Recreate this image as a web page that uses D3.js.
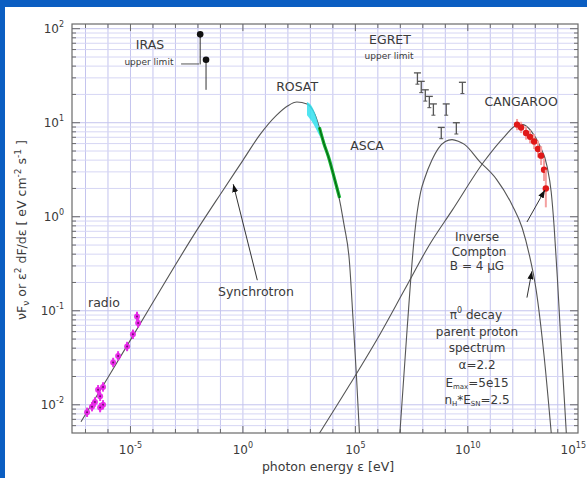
<!DOCTYPE html>
<html><head><meta charset="utf-8">
<script src="https://cdn.jsdelivr.net/npm/d3@7"></script>
<style>
html,body{margin:0;padding:0;background:#0b5ec2;}
svg{display:block;}
text{font-family:"DejaVu Sans",sans-serif;fill:#3a3a3a;}
</style></head><body>
<svg id="c" width="587" height="478"></svg>
<script>
// ---------- DATA (log10 of photon energy [eV] and of nuFnu [eV cm^-2 s^-1]) ----------
const synchLogE = [-7.2,-6.0,-4.25,-2.04,-1.0,0.0,0.75,1.5,2.0,2.4,2.85,3.2,3.5,3.85,4.2,4.5,4.73,4.9,5.05,5.18];
const synchLogF = [-2.18,-1.71,-1.01,-0.14,0.24,0.6,0.87,1.08,1.18,1.22,1.2,1.09,0.87,0.6,0.29,-0.09,-0.46,-1.1,-1.7,-2.3];

const icLogE = [3.41,4.74,6.07,7.18,8.29,9.31,10.73,11.62,12.15,12.46,12.82,13.17,13.53,13.71,13.84,13.98,14.11,14.24,14.38];
const icLogF = [-2.3,-1.79,-1.26,-0.78,-0.3,0.07,0.59,0.85,0.97,0.98,0.91,0.77,0.53,0.26,-0.11,-0.64,-1.2,-1.73,-2.3];

const pionLogE = [6.98,7.3,7.61,7.75,7.9,8.1,8.4,8.7,9.0,9.3,9.6,9.85,10.52,11.27,11.98,12.42,12.73,13.04,13.4,13.71];
const pionLogF = [-2.3,-1.2,-0.245,0.05,0.26,0.42,0.6,0.73,0.8,0.82,0.8,0.77,0.59,0.40,0.12,-0.12,-0.40,-0.78,-1.5,-2.3];

const radioLogE = [-6.93,-6.71,-6.58,-6.35,-6.22,-6.44,-6.22,-6.35,-5.77,-5.55,-5.15,-4.89,-4.66,-4.71];
const radioLogF = [-2.08,-2.02,-1.97,-1.91,-2.00,-1.84,-1.81,-2.03,-1.55,-1.48,-1.38,-1.25,-1.13,-1.06];
const radioErr  = [0.05,0.05,0.05,0.05,0.05,0.05,0.05,0.05,0.05,0.05,0.05,0.05,0.05,0.05];

const rosatLogE = [2.85,3.1,3.3,3.45];
const rosatLogFHi = [1.22,1.16,1.03,0.88];
const rosatLogFLo = [1.08,1.0,0.91,0.84];

const ascaLogE = [3.4,3.6,3.8,4.0,4.2,4.3];
const ascaLogF = [0.95,0.78,0.64,0.47,0.29,0.2];

const egretLogE = [7.76,7.93,8.11,8.29,8.47,9.04,9.76,9.49,8.82];
const egretLogF = [1.53,1.44,1.35,1.28,1.20,1.20,1.43,1.00,0.95];

const cangLogE = [12.19,12.37,12.59,12.77,12.95,13.12,13.26,13.39,13.47];
const cangLogF = [0.98,0.95,0.89,0.85,0.80,0.72,0.65,0.50,0.30];
const cangErr  = [0.06,0.06,0.07,0.07,0.08,0.09,0.10,0.12,0.20];

const irasLogE = [-1.90,-1.64];
const irasLogF = [1.94,1.67];

const xTickExps = [-5,0,5,10,15];
const yTickExps = [-2,-1,0,1,2];

// ---------- SETUP ----------
const P = v => Math.pow(10, v);
const svg = d3.select('#c');
svg.append('rect').attr('width',587).attr('height',478).attr('fill','#0b5ec2');
svg.append('rect').attr('x',5).attr('y',7).attr('width',582).attr('height',471).attr('fill','#ffffff');

const x = d3.scaleLog().domain([P(-7.6), P(14.9)]).range([72, 578]);
const y = d3.scaleLog().domain([P(-2.3), P(2.05)]).range([433, 24]);
const X = le => x(P(le)), Y = lf => y(P(lf));
const [x0,x1] = x.range(), [y0,y1] = y.range();

svg.append('clipPath').attr('id','clip').append('rect')
  .attr('x',x0).attr('y',y1).attr('width',x1-x0).attr('height',y0-y1);

// grid
const g = svg.append('g');
for (let e = -7; e <= 14; e++) {
  g.append('line').attr('x1',x(P(e))).attr('x2',x(P(e))).attr('y1',y1).attr('y2',y0)
    .attr('stroke','#c4c4ee').attr('stroke-width',1);
}
const yMinor = [];
for (let d = -3; d <= 2; d++) for (let m = 1; m <= 9; m++) {
  const v = m * P(d);
  if (v >= y.domain()[0] && v <= y.domain()[1]) yMinor.push({v, major: m === 1});
}
yMinor.forEach(t => {
  g.append('line').attr('x1',x0).attr('x2',x1).attr('y1',y(t.v)).attr('y2',y(t.v))
    .attr('stroke', t.major ? '#c4c4ee' : '#d6d6f4').attr('stroke-width',1);
});

// frame + ticks
const axisCol = '#6a6a6a';
yMinor.forEach(t => {
  const L = t.major ? 8 : 4;
  g.append('line').attr('x1',x0).attr('x2',x0+L).attr('y1',y(t.v)).attr('y2',y(t.v)).attr('stroke',axisCol);
  g.append('line').attr('x1',x1).attr('x2',x1-L).attr('y1',y(t.v)).attr('y2',y(t.v)).attr('stroke',axisCol);
});
for (let e = -7; e <= 14; e++) {
  const L = (e % 5 === 0) ? 7 : 4;
  g.append('line').attr('x1',x(P(e))).attr('x2',x(P(e))).attr('y1',y0).attr('y2',y0-L).attr('stroke',axisCol);
  g.append('line').attr('x1',x(P(e))).attr('x2',x(P(e))).attr('y1',y1).attr('y2',y1+L).attr('stroke',axisCol);
}
svg.append('rect').attr('x',x0).attr('y',y1).attr('width',x1-x0).attr('height',y0-y1)
  .attr('fill','none').attr('stroke',axisCol).attr('stroke-width',1.2);

// tick labels
xTickExps.forEach(e => {
  const last = e === xTickExps[xTickExps.length-1];
  const t = svg.append('text').attr('x', last ? 586 : x(P(e))).attr('y', 454)
    .attr('text-anchor', last ? 'end' : 'middle').attr('font-size',12);
  t.append('tspan').text('10');
  t.append('tspan').attr('dy',-6).attr('font-size',8).text(e);
});
yTickExps.forEach(e => {
  const t = svg.append('text').attr('x', 64).attr('y', y(P(e)) + 4).attr('text-anchor','end')
    .attr('font-size',12);
  t.append('tspan').text('10');
  t.append('tspan').attr('dy',-6).attr('font-size',8).text(e);
});

// axis titles
const xt = svg.append('text').attr('x',328).attr('y',471).attr('text-anchor','middle').attr('font-size',12.5);
xt.text('photon energy ε [eV]');
const yt = svg.append('text').attr('transform','translate(26,230) rotate(-90)').attr('text-anchor','middle').attr('font-size',12.5);
yt.append('tspan').text('νF');
yt.append('tspan').attr('font-size',9).attr('dy',3).text('ν');
yt.append('tspan').attr('dy',-3).text(' or ε');
yt.append('tspan').attr('font-size',9).attr('dy',-5).text('2');
yt.append('tspan').attr('dy',5).text(' dF/dε [ eV cm');
yt.append('tspan').attr('font-size',9).attr('dy',-5).text('-2');
yt.append('tspan').attr('dy',5).text(' s');
yt.append('tspan').attr('font-size',9).attr('dy',-5).text('-1');
yt.append('tspan').attr('dy',5).text(' ]');

// ---------- MARKS ----------
const plot = svg.append('g').attr('clip-path','url(#clip)');
const line = d3.line().x(d => X(d[0])).y(d => Y(d[1])).curve(d3.curveMonotoneX);
const zip = (a,b) => a.map((v,i) => [v, b[i]]);

[[synchLogE,synchLogF],[icLogE,icLogF],[pionLogE,pionLogF]].forEach(([a,b]) => {
  plot.append('path').attr('d', line(zip(a,b))).attr('fill','none')
    .attr('stroke','#555').attr('stroke-width',1.1);
});

// ROSAT band
const area = d3.area().x(d => X(d[0])).y0(d => Y(d[1])).y1(d => Y(d[2])).curve(d3.curveMonotoneX);
plot.append('path').attr('d', area(rosatLogE.map((e,i)=>[e, rosatLogFLo[i], rosatLogFHi[i]])))
  .attr('fill','#33e0ee').attr('opacity',0.85);
// ASCA band
plot.append('path').attr('d', line(zip(ascaLogE, ascaLogF))).attr('fill','none')
  .attr('stroke','#10b030').attr('stroke-width',3.2);
plot.append('path').attr('d', line(zip(ascaLogE, ascaLogF))).attr('fill','none')
  .attr('stroke','#0a5a10').attr('stroke-width',1);

// radio points
radioLogE.forEach((e,i) => {
  const cx = X(e), f = radioLogF[i];
  plot.append('line').attr('x1',cx).attr('x2',cx).attr('y1',Y(f-radioErr[i])).attr('y2',Y(f+radioErr[i]))
    .attr('stroke','#e830e8').attr('stroke-width',2);
  plot.append('circle').attr('cx',cx).attr('cy',Y(f)).attr('r',3).attr('fill','#e820e8').attr('opacity',0.9);
  plot.append('circle').attr('cx',cx).attr('cy',Y(f)).attr('r',1).attr('fill','#701070');
});

// CANGAROO points
cangLogE.forEach((e,i) => {
  const cx = X(e), f = cangLogF[i];
  plot.append('line').attr('x1',cx).attr('x2',cx).attr('y1',Y(f-cangErr[i])).attr('y2',Y(f+cangErr[i]))
    .attr('stroke','#f4a0a0').attr('stroke-width',2);
  plot.append('line').attr('x1',cx-3).attr('x2',cx+3).attr('y1',Y(f)).attr('y2',Y(f))
    .attr('stroke','#f08080').attr('stroke-width',1.5);
  plot.append('circle').attr('cx',cx).attr('cy',Y(f)).attr('r',3.2).attr('fill','#e01818');
});

// EGRET upper limits
egretLogE.forEach((e,i) => {
  const cx = X(e), cy = Y(egretLogF[i]), cyl = Y(egretLogF[i]-0.12);
  plot.append('line').attr('x1',cx-3.5).attr('x2',cx+3.5).attr('y1',cy).attr('y2',cy).attr('stroke','#555').attr('stroke-width',1.3);
  plot.append('line').attr('x1',cx).attr('x2',cx).attr('y1',cy).attr('y2',cyl).attr('stroke','#555').attr('stroke-width',1.3);
  plot.append('line').attr('x1',cx-2).attr('x2',cx+2).attr('y1',cyl).attr('y2',cyl).attr('stroke','#555').attr('stroke-width',1);
});

// IRAS upper limits
irasLogE.forEach((e,i) => {
  const cx = X(e);
  plot.append('line').attr('x1',cx).attr('x2',cx).attr('y1',Y(irasLogF[i])).attr('y2',Y(irasLogF[i]-0.32))
    .attr('stroke','#333').attr('stroke-width',1);
  plot.append('circle').attr('cx',cx).attr('cy',Y(irasLogF[i])).attr('r',3.3).attr('fill','#111');
});

// ---------- ANNOTATIONS ----------
svg.append('defs').append('marker').attr('id','ah').attr('viewBox','0 0 8 6')
  .attr('refX',8).attr('refY',3).attr('markerWidth',8).attr('markerHeight',6)
  .attr('markerUnits','userSpaceOnUse').attr('orient','auto')
  .append('path').attr('d','M0,0L8,3L0,6z').attr('fill','#111');

const arrows = [
  [0.64,-0.675,-0.43,0.346],
  [12.63,-0.056,13.43,0.284],
  [12.63,-0.86,12.85,-0.58]
];
arrows.forEach(a => {
  svg.append('line').attr('x1',X(a[0])).attr('y1',Y(a[1])).attr('x2',X(a[2])).attr('y2',Y(a[3]))
    .attr('stroke','#333').attr('stroke-width',1).attr('marker-end','url(#ah)');
});
// IRAS leader line
svg.append('line').attr('x1',X(-2.75)).attr('x2',X(-1.95)).attr('y1',Y(1.625)).attr('y2',Y(1.625))
  .attr('stroke','#555').attr('stroke-width',1);

const labels = [
  ['IRAS', -4.13, 1.827, 12.5],
  ['upper limit', -4.18, 1.646, 9],
  ['EGRET', 6.54, 1.88, 12.5],
  ['upper limit', 6.50, 1.71, 9],
  ['ROSAT', 2.41, 1.39, 12.5],
  ['ASCA', 5.52, 0.763, 12.5],
  ['CANGAROO', 12.37, 1.231, 12.5],
  ['radio', -6.18, -0.907, 12.5],
  ['Synchrotron', 0.58, -0.80, 12.5],
  ['Inverse', 10.41, -0.217, 12],
  ['Compton', 10.50, -0.376, 12],
  ['B = 4 μG', 10.41, -0.524, 12],
  ['parent proton', 10.41, -1.226, 12],
  ['spectrum', 10.41, -1.397, 12],
  ['α=2.2', 10.41, -1.577, 12]
];
labels.forEach(l => {
  svg.append('text').attr('x',X(l[1])).attr('y',Y(l[2])).attr('dy','0.36em')
    .attr('text-anchor','middle').attr('font-size',l[3]).text(l[0]);
});
// rich labels
let t = svg.append('text').attr('x',X(10.36)).attr('y',Y(-1.046)).attr('dy','0.36em').attr('text-anchor','middle').attr('font-size',12);
t.append('tspan').text('π');
t.append('tspan').attr('font-size',8).attr('dy',-6).text('0');
t.append('tspan').attr('dy',6).text(' decay');
t = svg.append('text').attr('x',X(10.41)).attr('y',Y(-1.769)).attr('dy','0.36em').attr('text-anchor','middle').attr('font-size',12);
t.append('tspan').text('E');
t.append('tspan').attr('font-size',7).attr('dy',2).text('max');
t.append('tspan').attr('dy',-2).text('=5e15');
t = svg.append('text').attr('x',X(10.41)).attr('y',Y(-1.95)).attr('dy','0.36em').attr('text-anchor','middle').attr('font-size',12);
t.append('tspan').text('n');
t.append('tspan').attr('font-size',7).attr('dy',2).text('H');
t.append('tspan').attr('dy',-2).text('*E');
t.append('tspan').attr('font-size',7).attr('dy',2).text('SN');
t.append('tspan').attr('dy',-2).text('=2.5');
</script>
</body></html>
